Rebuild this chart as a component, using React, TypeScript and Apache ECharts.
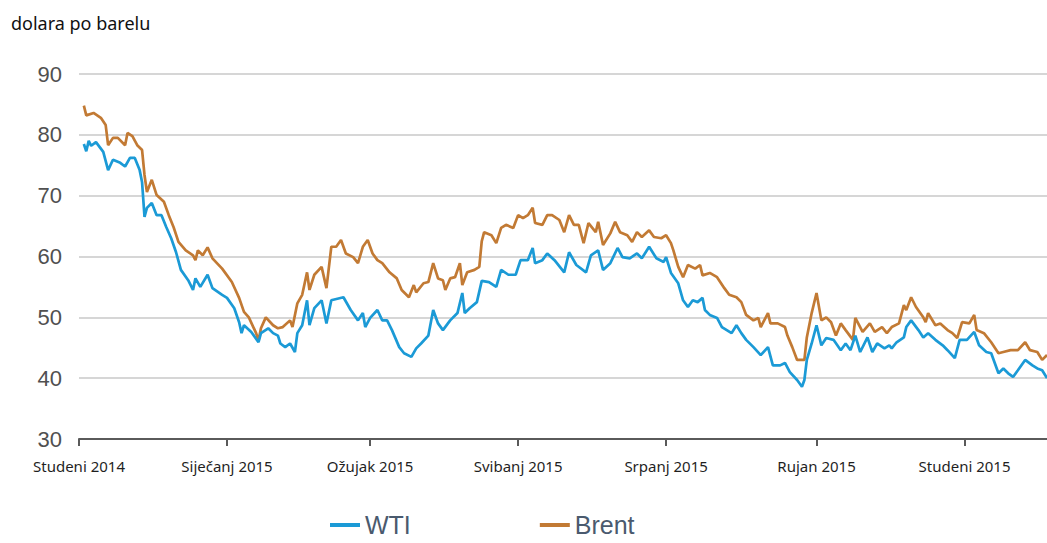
import React, { useEffect, useRef } from "react";
import * as echarts from "echarts";

const titleText = "dolara po barelu";
const seriesNames = ["WTI", "Brent"];
const seriesColors = ["#1b9ad6", "#c27a34"];

const tickDates = ["2014-11-01", "2015-01-01", "2015-03-01", "2015-05-01", "2015-07-01", "2015-09-01", "2015-11-01"];
const tickLabels = ["Studeni 2014", "Siječanj 2015", "Ožujak 2015", "Svibanj 2015", "Srpanj 2015", "Rujan 2015", "Studeni 2015"];
const xMin = "2014-11-01";
const xMax = "2015-12-05";
const yMin = 30;
const yMax = 90;
const yStep = 10;

const brentDates = [
  "2014-11-03","2014-11-04","2014-11-07","2014-11-10","2014-11-12","2014-11-13","2014-11-15","2014-11-17","2014-11-20","2014-11-21",
  "2014-11-23","2014-11-25","2014-11-27","2014-11-28","2014-11-29","2014-12-01","2014-12-03","2014-12-06","2014-12-08","2014-12-10",
  "2014-12-12","2014-12-15","2014-12-18","2014-12-19","2014-12-20","2014-12-22","2014-12-24","2014-12-26","2014-12-30","2015-01-03",
  "2015-01-06","2015-01-08","2015-01-10","2015-01-13","2015-01-14","2015-01-15","2015-01-17","2015-01-20","2015-01-22","2015-01-24",
  "2015-01-27","2015-01-28","2015-01-30","2015-02-01","2015-02-03","2015-02-04","2015-02-06","2015-02-09","2015-02-11","2015-02-13",
  "2015-02-15","2015-02-17","2015-02-19","2015-02-22","2015-02-24","2015-02-26","2015-02-28","2015-03-01","2015-03-02","2015-03-04",
  "2015-03-06","2015-03-09","2015-03-12","2015-03-14","2015-03-17","2015-03-19","2015-03-20","2015-03-23","2015-03-25","2015-03-27",
  "2015-03-29","2015-03-31","2015-04-01","2015-04-03","2015-04-05","2015-04-07","2015-04-08","2015-04-10","2015-04-13","2015-04-15",
  "2015-04-16","2015-04-17","2015-04-20","2015-04-22","2015-04-24","2015-04-26","2015-04-29","2015-05-01","2015-05-03","2015-05-05",
  "2015-05-07","2015-05-08","2015-05-11","2015-05-13","2015-05-15","2015-05-18","2015-05-20","2015-05-22","2015-05-24","2015-05-26",
  "2015-05-28","2015-05-30","2015-06-02","2015-06-03","2015-06-05","2015-06-08","2015-06-10","2015-06-12","2015-06-15","2015-06-17",
  "2015-06-19","2015-06-21","2015-06-24","2015-06-26","2015-06-29","2015-07-01","2015-07-03","2015-07-04","2015-07-06","2015-07-08",
  "2015-07-10","2015-07-13","2015-07-15","2015-07-16","2015-07-19","2015-07-22","2015-07-25","2015-07-27","2015-07-30","2015-08-01",
  "2015-08-03","2015-08-06","2015-08-08","2015-08-09","2015-08-12","2015-08-13","2015-08-16","2015-08-19","2015-08-20","2015-08-22",
  "2015-08-24","2015-08-27","2015-08-28","2015-08-30","2015-09-01","2015-09-03","2015-09-05","2015-09-07","2015-09-09","2015-09-11",
  "2015-09-13","2015-09-16","2015-09-17","2015-09-20","2015-09-23","2015-09-25","2015-09-28","2015-09-30","2015-10-02","2015-10-05",
  "2015-10-07","2015-10-08","2015-10-10","2015-10-12","2015-10-15","2015-10-16","2015-10-17","2015-10-20","2015-10-22","2015-10-25",
  "2015-10-27","2015-10-29","2015-10-31","2015-11-03","2015-11-05","2015-11-06","2015-11-09","2015-11-12","2015-11-15","2015-11-17",
  "2015-11-20","2015-11-23","2015-11-26","2015-11-28","2015-12-01","2015-12-03","2015-12-05"
];
const brentValues = [
  84.8,83.2,83.6,82.8,81.6,78.3,79.5,79.5,78.3,80.3,
  79.8,78.3,77.5,73.4,70.6,72.6,70.1,69.0,66.8,64.8,
  62.4,61.0,60.2,59.4,61.0,60.2,61.5,59.7,58.0,55.8,
  53.2,50.9,50.0,47.4,46.2,48.2,50.0,48.7,48.2,48.4,
  49.5,48.4,52.3,53.7,57.4,54.5,57.0,58.3,54.8,61.6,
  61.6,62.7,60.5,59.9,58.9,61.6,62.7,61.6,60.5,59.4,
  58.9,57.4,56.4,54.5,53.3,55.3,54.1,55.6,55.8,58.9,
  56.4,56.1,54.5,56.4,56.6,58.9,55.3,57.4,57.8,58.3,
  62.5,64.0,63.5,62.2,64.7,65.2,64.7,66.8,66.3,66.8,
  68.0,65.5,65.2,66.8,66.8,66.0,64.0,66.8,65.2,65.2,
  62.2,65.5,64.0,65.7,61.9,63.8,65.7,64.0,63.5,62.4,
  64.0,63.2,64.3,63.2,63.0,63.5,62.2,61.0,58.3,56.6,
  58.6,58.0,58.6,56.9,57.3,56.6,54.8,53.7,53.3,52.5,
  50.4,49.5,49.9,48.4,50.7,49.0,49.0,48.4,47.0,45.1,
  43.0,43.0,46.7,50.7,54.0,49.5,50.0,49.2,47.0,49.0,
  47.9,46.3,49.9,47.6,49.0,47.6,48.4,47.4,48.4,49.0,
  52.0,51.2,53.3,51.7,50.0,49.2,50.7,48.7,49.0,47.9,
  47.4,46.6,49.2,49.0,50.4,47.9,47.4,45.9,44.1,44.3,
  44.6,44.6,45.9,44.6,44.3,43.0,43.8
];

const wtiDates = [
  "2014-11-03","2014-11-04","2014-11-05","2014-11-06","2014-11-08","2014-11-11","2014-11-13","2014-11-15","2014-11-18","2014-11-20",
  "2014-11-22","2014-11-24","2014-11-26","2014-11-27","2014-11-28","2014-11-29","2014-12-01","2014-12-03","2014-12-05","2014-12-07",
  "2014-12-09","2014-12-11","2014-12-13","2014-12-16","2014-12-18","2014-12-19","2014-12-21","2014-12-24","2014-12-26","2014-12-30",
  "2015-01-01","2015-01-04","2015-01-06","2015-01-07","2015-01-08","2015-01-11","2015-01-14","2015-01-15","2015-01-18","2015-01-20",
  "2015-01-22","2015-01-23","2015-01-25","2015-01-27","2015-01-29","2015-01-30","2015-02-01","2015-02-03","2015-02-04","2015-02-06",
  "2015-02-09","2015-02-11","2015-02-13","2015-02-18","2015-02-21","2015-02-24","2015-02-26","2015-02-27","2015-03-01","2015-03-04",
  "2015-03-06","2015-03-08","2015-03-10","2015-03-13","2015-03-15","2015-03-18","2015-03-20","2015-03-22","2015-03-25","2015-03-27",
  "2015-03-29","2015-03-31","2015-04-03","2015-04-06","2015-04-08","2015-04-09","2015-04-11","2015-04-14","2015-04-16","2015-04-19",
  "2015-04-22","2015-04-24","2015-04-27","2015-04-30","2015-05-02","2015-05-05","2015-05-07","2015-05-08","2015-05-11","2015-05-13",
  "2015-05-16","2015-05-20","2015-05-22","2015-05-25","2015-05-29","2015-05-31","2015-06-03","2015-06-05","2015-06-08","2015-06-11",
  "2015-06-13","2015-06-16","2015-06-19","2015-06-21","2015-06-24","2015-06-27","2015-06-30","2015-07-01","2015-07-03","2015-07-06",
  "2015-07-08","2015-07-10","2015-07-12","2015-07-14","2015-07-16","2015-07-17","2015-07-19","2015-07-22","2015-07-24","2015-07-26",
  "2015-07-28","2015-07-30","2015-08-01","2015-08-03","2015-08-06","2015-08-09","2015-08-12","2015-08-14","2015-08-17","2015-08-19",
  "2015-08-21","2015-08-24","2015-08-26","2015-08-27","2015-08-28","2015-08-30","2015-09-01","2015-09-03","2015-09-05","2015-09-08",
  "2015-09-11","2015-09-13","2015-09-15","2015-09-17","2015-09-19","2015-09-22","2015-09-24","2015-09-26","2015-09-29","2015-10-01",
  "2015-10-02","2015-10-04","2015-10-07","2015-10-08","2015-10-10","2015-10-13","2015-10-15","2015-10-17","2015-10-20","2015-10-23",
  "2015-10-25","2015-10-28","2015-10-30","2015-11-02","2015-11-05","2015-11-07","2015-11-10","2015-11-12","2015-11-15","2015-11-17",
  "2015-11-19","2015-11-21","2015-11-23","2015-11-26","2015-11-29","2015-12-01","2015-12-03","2015-12-05"
];
const wtiValues = [
  78.5,77.3,79.0,78.2,78.8,77.2,74.2,75.9,75.4,74.8,
  76.2,76.2,74.2,72.2,66.5,68.0,68.8,66.8,66.8,64.8,
  63.0,60.7,57.8,56.1,54.5,56.4,55.0,57.0,54.8,53.7,
  53.2,51.5,49.2,47.4,48.7,47.6,45.9,47.4,48.2,47.4,
  47.0,45.7,45.1,45.7,44.3,47.4,48.7,52.8,48.7,51.5,
  52.8,49.0,52.8,53.3,51.2,49.5,50.7,48.4,49.9,51.2,
  49.5,49.5,47.9,45.1,44.1,43.5,44.9,45.7,47.0,51.2,
  49.0,47.9,49.5,50.7,54.0,50.7,51.5,52.5,56.0,55.8,
  55.0,57.8,57.0,57.0,59.4,59.4,61.4,58.9,59.4,60.5,
  59.4,57.4,60.7,58.6,57.4,60.2,61.0,57.8,58.9,61.4,
  59.9,59.7,60.5,59.7,61.6,59.7,59.1,59.9,57.3,55.6,
  52.8,51.7,52.8,52.5,53.2,51.2,50.4,49.9,48.4,47.9,
  47.4,48.7,47.4,46.3,45.1,43.8,45.1,42.1,42.1,42.5,
  41.0,39.7,38.6,39.7,43.0,45.7,48.7,45.4,46.6,46.3,
  44.6,45.7,44.6,47.0,44.3,46.7,44.3,45.7,44.9,45.4,
  44.9,45.9,46.7,48.4,49.5,47.9,46.7,47.4,46.3,45.4,
  44.6,43.3,46.3,46.3,47.6,45.4,44.3,44.1,40.8,41.6,
  40.8,40.2,41.3,43.0,42.1,41.6,41.3,40.0
];

function toTime(s: string): number {
  const [y, m, d] = s.split("-").map(Number);
  return Date.UTC(y, m - 1, d);
}

export default function App() {
  const ref = useRef<HTMLDivElement>(null);
  useEffect(() => {
    if (!ref.current) return;
    const chart = echarts.init(ref.current, null, { renderer: "svg" });
    const tickTimes = tickDates.map(toTime);
    const wtiData = wtiDates.map((d, i) => [toTime(d), wtiValues[i]]);
    const brentData = brentDates.map((d, i) => [toTime(d), brentValues[i]]);
    chart.setOption({
      animation: false,
      backgroundColor: "#ffffff",
      title: {
        text: titleText,
        left: 6,
        top: 9,
        textStyle: { fontFamily: "Noto Sans", fontSize: 18, fontWeight: "normal", color: "#111111" },
      },
      legend: {
        data: seriesNames,
        left: 330,
        top: 512,
        icon: "rect",
        itemWidth: 30,
        itemHeight: 4,
        itemGap: 129,
        padding: 0,
        textStyle: { fontFamily: "Liberation Sans", fontSize: 25, color: "#4a5a6e", lineHeight: 26 },
      },
      grid: { left: 79, right: 0, top: 74, bottom: 104, containLabel: false },
      xAxis: {
        type: "value",
        min: toTime(xMin),
        max: toTime(xMax),
        axisLine: { show: true, lineStyle: { color: "#5a5a5a", width: 2 } },
        axisTick: { show: true, length: 7, lineStyle: { color: "#5a5a5a", width: 2 }, customValues: tickTimes },
        axisLabel: {
          customValues: tickTimes,
          margin: 19,
          fontFamily: "Noto Sans",
          fontSize: 15,
          color: "#1f1f1f",
          showMinLabel: true,
          showMaxLabel: true,
          formatter: (v: number) => {
            const i = tickTimes.indexOf(v);
            return i >= 0 ? tickLabels[i] : "";
          },
        },
        splitLine: { show: false },
      },
      yAxis: {
        type: "value",
        min: yMin,
        max: yMax,
        interval: yStep,
        axisLine: { show: false },
        axisTick: { show: false },
        axisLabel: { margin: 17, fontFamily: "Liberation Sans", fontSize: 22, color: "#505050" },
        splitLine: { show: true, lineStyle: { color: "#d6d6d6", width: 2 } },
      },
      series: [
        {
          name: seriesNames[1],
          type: "line",
          data: brentData,
          showSymbol: false,
          color: seriesColors[1],
          lineStyle: { width: 2.7, color: seriesColors[1] },
          z: 2,
        },
        {
          name: seriesNames[0],
          type: "line",
          data: wtiData,
          showSymbol: false,
          color: seriesColors[0],
          lineStyle: { width: 2.7, color: seriesColors[0] },
          z: 3,
        },
      ],
    });
    return () => chart.dispose();
  }, []);
  return <div ref={ref} style={{ position: "absolute", left: 0, top: 0, width: 1047, height: 543 }} />;
}
